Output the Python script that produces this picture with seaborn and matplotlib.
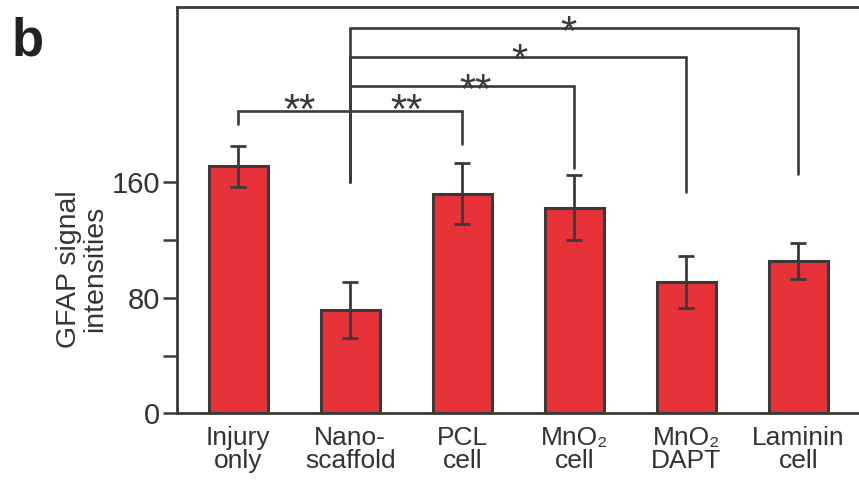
import matplotlib
matplotlib.use("Agg")
import matplotlib.pyplot as plt
import seaborn as sns
import pandas as pd

sns.set_theme(style="white")
plt.rcParams['font.family'] = ['Liberation Sans', 'DejaVu Sans']

categories = ["Injury\nonly", "Nano-\nscaffold", "PCL\ncell", "MnO\u2082\ncell", "MnO\u2082\nDAPT", "Laminin\ncell"]
means = [171.0, 71.7, 152.2, 142.5, 91.0, 105.3]
errors = [14.4, 19.5, 21.4, 22.2, 18.1, 12.3]
yticks_major = [0, 80, 160]
yticks_minor = [40, 120]

# significance annotations: (x_start, x_end, bar_y, leg_start_bottom, leg_end_bottom)
brackets = [
    (0, 2, 209.3, 200.3, 186.5),
    (1, 3, 226.6, 160.0, 170.0),
    (1, 4, 246.5, 160.0, 153.5),
    (1, 5, 266.6, 160.0, 165.7),
]
star_labels = ["**", "**", "**", "*", "*"]
star_x = [0.55, 1.5, 2.12, 2.51, 2.95]
star_y = [218.2, 218.2, 232.0, 252.8, 272.4]

RED = "#E8323A"
DARK = "#3a3a3a"
TEXT = "#333333"

df = pd.DataFrame({"group": categories, "value": means})

fig = plt.figure(figsize=(8.59, 4.80), dpi=100)
ax = fig.add_axes([176.6 / 859, 1 - 413.3 / 480, 1 - 176.6 / 859, (413.3 - 6.7) / 480])

sns.barplot(data=df, x="group", y="value", color=RED, edgecolor=DARK,
            linewidth=2.2, width=0.53, saturation=1, errorbar=None, ax=ax)
ax.errorbar(range(len(means)), means, yerr=errors, fmt="none", ecolor=DARK,
            elinewidth=2.0, capsize=6, capthick=2.0, zorder=5)

for xs, xe, yb, l1, l2 in brackets:
    ax.plot([xs, xs, xe, xe], [l1, yb, yb, l2], color=DARK, lw=1.9,
            solid_joinstyle="miter", clip_on=False, zorder=4)

STAR_FS = 30
for lab, x, y in zip(star_labels, star_x, star_y):
    ax.annotate(lab, (x, y), xytext=(0, -0.60 * STAR_FS), textcoords="offset points",
                ha="center", va="baseline", fontsize=STAR_FS, color=DARK)

ax.set_xlim(-0.55, 5.54)
ax.set_ylim(0, 281.6)
ax.set_yticks(yticks_major)
ax.set_yticks(yticks_minor, minor=True)
ax.set_yticklabels([str(v) for v in yticks_major], fontsize=21, color=TEXT)
ax.tick_params(axis="y", which="both", direction="out", length=10, width=1.8,
               color=DARK, left=True, pad=2)
ax.tick_params(axis="x", bottom=False, labelsize=19, labelcolor=TEXT, pad=3)
for lbl in ax.get_xticklabels():
    lbl.set_linespacing(0.96)

ax.set_xlabel("")
ax.set_ylabel("GFAP signal\nintensities", fontsize=20.5, color=TEXT, linespacing=1.0)
ax.yaxis.set_label_coords(-0.10, 0.355)

for side in ["left", "top", "bottom"]:
    ax.spines[side].set_color(DARK)
    ax.spines[side].set_linewidth(2.0)
ax.spines["right"].set_visible(False)

fig.text(0.0136, 0.885, "b", fontsize=38, fontweight="bold", color="#222222",
         ha="left", va="baseline")

fig.savefig("out.png", dpi=100)
